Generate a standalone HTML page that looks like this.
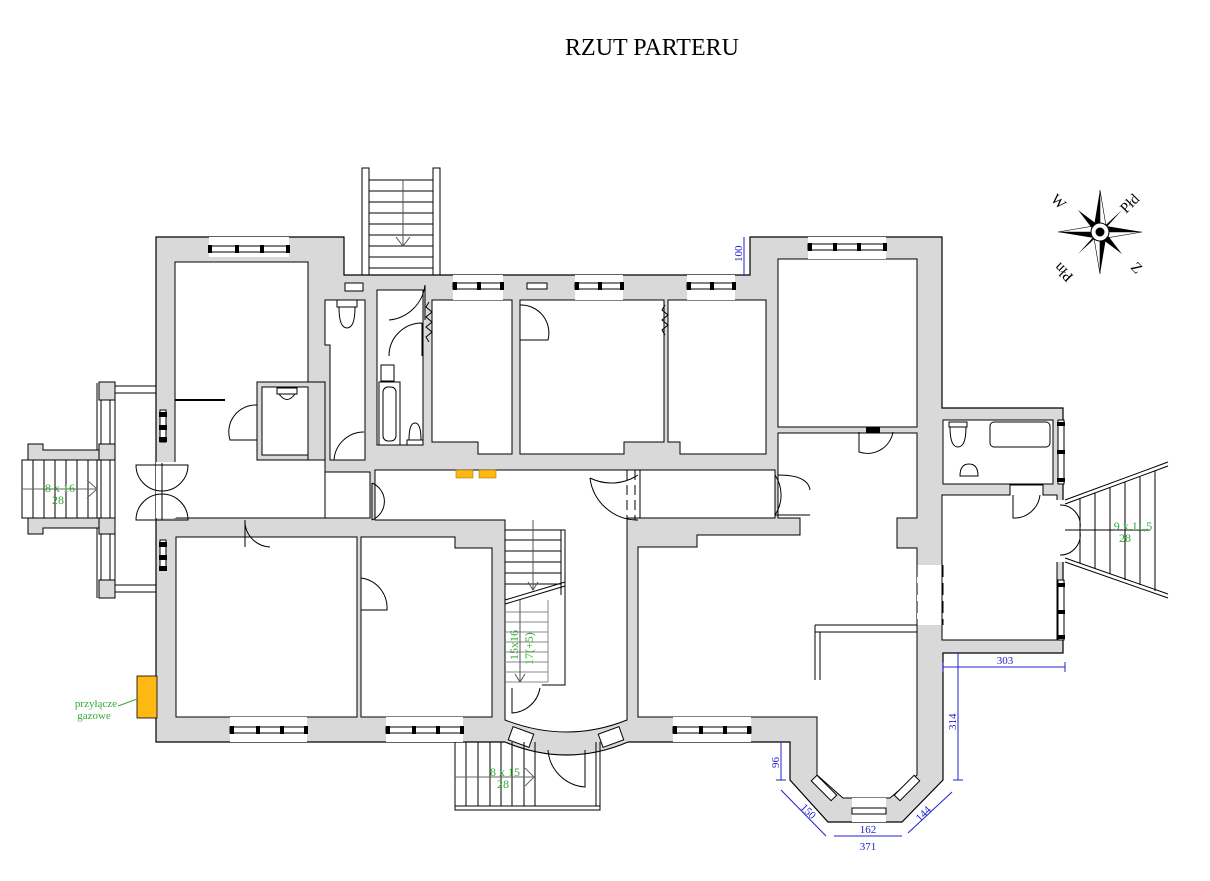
<!DOCTYPE html>
<html><head><meta charset="utf-8"><style>
html,body{margin:0;padding:0;background:#fff}
svg{display:block}
text{font-family:"Liberation Serif",serif}
</style></head><body>
<svg width="1210" height="881" viewBox="0 0 1210 881" xmlns="http://www.w3.org/2000/svg">
<rect width="1210" height="881" fill="#fff"/>
<text x="652" y="55" font-size="24" text-anchor="middle" fill="#000">RZUT PARTERU</text>

<!-- north stair -->
<g stroke="#000" stroke-width="1" fill="none">
<rect x="362" y="168" width="7" height="107" fill="#fff"/>
<rect x="433" y="168" width="7" height="107" fill="#fff"/>
<path d="M369 180H433M369 191H433M369 202H433M369 213H433M369 224H433M369 235H433M369 246H433M369 257H433M369 268H433"/>
<path d="M403 180V246M396 237L403 246L410 237" stroke="#555"/>
</g>

<!-- footprint -->
<path d="M156,237 L344,237 L344,275 L750,275 L750,237 L942,237 L942,408 L1063,408 L1063,653 L943,653 L943,780 L902,822 L828,822 L790,780 L790,742 L628,742 Q567,768 505,742 L156,742 Z" fill="#d9d9d9" stroke="#000" stroke-width="1.2"/>

<g fill="#fff" stroke="#000" stroke-width="1">
<path d="M175,262 L308,262 L308,382 L257,382 L257,460 L325,460 L325,518 L175,518 Z"/>
<rect x="257" y="382" width="68" height="78" fill="#d9d9d9"/>
<rect x="262" y="387" width="46" height="68"/>
<rect x="156" y="462" width="20" height="56" stroke="none"/>
<path d="M325,300 L365,300 L365,460 L330,460 L330,345 L325,345 Z"/>
<rect x="377" y="290" width="46" height="155"/>
<path d="M432,300 L512,300 L512,454 L478,454 L478,442 L432,442 Z"/>
<path d="M520,300 L664,300 L664,442 L624,442 L624,454 L520,454 Z"/>
<path d="M668,300 L766,300 L766,454 L680,454 L680,442 L668,442 Z"/>
<rect x="778" y="259" width="139" height="168"/>
<rect x="325" y="472" width="45" height="46"/>
<path d="M375,470 L640,470 L640,518 L627,518 L627,720 Q567,744 505,720 L505,520 L375,520 Z"/>
<rect x="640" y="470" width="135" height="48"/>
<path d="M778,433 L917,433 L917,518 L897,518 L897,548 L917,548 L917,775 L890,798 L843,798 L817,775 L817,717 L638,717 L638,547 L697,547 L697,535 L800,535 L800,518 L778,518 Z"/>
<rect x="917" y="565" width="26" height="60" stroke="none"/>
<rect x="943" y="420" width="110" height="64"/>
<path d="M942,495 L1010,495 L1010,485 L1043,485 L1043,495 L1057,495 L1057,640 L942,640 Z"/>
<rect x="1055" y="500" width="10" height="62" stroke="none"/>
<rect x="176" y="537" width="181" height="180"/>
<path d="M361,537 L455,537 L455,548 L492,548 L492,717 L361,717 Z"/>
</g>

<g stroke="#000" stroke-width="1" fill="none">
<path d="M175,400H225" stroke-width="2"/>
<path d="M917,565V625M943,565V625" stroke-dasharray="12,6"/>
<path d="M815,625H917M815,632H917M815,625V680M820,632V680"/>
<path d="M635,470V520M627,470V520" stroke-dasharray="10,5"/>
<path d="M308,405V460" stroke-dasharray="10,5"/>
<rect x="337" y="300" width="20" height="7"/><path d="M339,307 Q339,328 347,328 Q355,328 355,307"/>
<rect x="381" y="365" width="13" height="16"/>
<rect x="379" y="382" width="21" height="63"/><rect x="383" y="387" width="13" height="54" rx="5"/>
<rect x="407" y="440" width="16" height="5"/><path d="M409,440 Q409,423 415,423 Q421,423 421,440"/>
<rect x="277" y="388" width="20" height="6"/><path d="M279,394 Q287,405 295,394"/>
<rect x="990" y="422" width="60" height="25" rx="4"/>
<rect x="949" y="422" width="18" height="5"/><path d="M950,427 Q950,447 958,447 Q966,447 966,427"/>
<path d="M960,476 Q960,464 969,464 Q978,464 978,476Z"/>
<path d="M425,285 A40,40 0 0 1 389,320 M425,285V320"/>
<path d="M422,323 A33,33 0 0 0 389,356 M422,323V356"/>
<path d="M257,405 A27,27 0 0 0 230,440 H257"/>
<path d="M364,432 A30,30 0 0 0 334,460"/>
<path d="M520,305 A28,28 0 0 1 548,340 H520"/>
<path d="M372,483 A20,20 0 0 1 372,520 M372,483V520"/>
<path d="M638,475 A48,48 0 0 1 590,478 M638,520 A48,48 0 0 1 590,478"/>
<path d="M775,475 A36,36 0 0 1 775,515 L810,515" />
<path d="M778,475 Q808,475 810,490"/>
<path d="M893,432 A26,26 0 0 1 859,452 V432"/>
<path d="M1040,495 A26,26 0 0 1 1013,518 V495"/>
<path d="M245,520 A26,26 0 0 0 270,547 M245,520V547"/>
<path d="M361,578 A30,30 0 0 1 387,610 H361"/>
<path d="M540,688 A30,30 0 0 1 512,713 V688"/>
<path d="M548,750 A40,40 0 0 0 585,787 V750"/>
<path d="M1060,505 A20,20 0 0 1 1080,528 M1060,555 A20,20 0 0 0 1080,532"/>
<path d="M136,465 A26,26 0 0 0 188,465Z M136,520 A26,26 0 0 1 188,520Z"/>
<path d="M162,463V520"/>
<path d="M429,302 l-3,5 6,5 -6,5 6,5 -6,5 6,5 -6,5 3,5"/>
<path d="M665,305 l-3,5 6,5 -6,5 6,5 -6,5 3,5"/>
</g>
<rect x="866" y="427" width="14" height="6" fill="#000"/>

<g stroke="#000" stroke-width="1" fill="#fff">
<rect x="209" y="237" width="80" height="20" stroke="none"/><rect x="209" y="246" width="80" height="6"/>
<rect x="345" y="283" width="18" height="8"/>
<rect x="453" y="275" width="50" height="25" stroke="none"/><rect x="453" y="283" width="50" height="6"/>
<rect x="527" y="283" width="20" height="6"/>
<rect x="575" y="275" width="48" height="25" stroke="none"/><rect x="575" y="283" width="48" height="6"/>
<rect x="687" y="275" width="48" height="25" stroke="none"/><rect x="687" y="283" width="48" height="6"/>
<rect x="808" y="237" width="78" height="22" stroke="none"/><rect x="808" y="244" width="78" height="6"/>
<rect x="160" y="410" width="6" height="32"/>
<rect x="160" y="540" width="6" height="30"/>
<rect x="230" y="717" width="77" height="25" stroke="none"/><rect x="230" y="727" width="77" height="6"/>
<rect x="386" y="717" width="77" height="25" stroke="none"/><rect x="386" y="727" width="77" height="6"/>
<rect x="673" y="717" width="78" height="25" stroke="none"/><rect x="673" y="727" width="78" height="6"/>
<rect x="852" y="798" width="34" height="24" stroke="none"/><rect x="852" y="808" width="34" height="6"/>
<rect x="1058" y="420" width="6" height="64"/>
<rect x="1058" y="580" width="6" height="60"/>
<rect x="510" y="730" width="22" height="14" transform="rotate(20 521 737)"/>
<rect x="600" y="730" width="22" height="14" transform="rotate(-20 611 737)"/>
<rect x="810" y="784" width="28" height="8" transform="rotate(45 824 788)"/>
<rect x="893" y="784" width="28" height="8" transform="rotate(-45 907 788)"/>
</g>
<g fill="#000">
<rect x="208" y="245" width="4" height="8"/><rect x="235" y="245" width="4" height="8"/><rect x="260" y="245" width="4" height="8"/><rect x="286" y="245" width="4" height="8"/>
<rect x="808" y="243" width="4" height="8"/><rect x="833" y="243" width="4" height="8"/><rect x="857" y="243" width="4" height="8"/><rect x="883" y="243" width="4" height="8"/>
<rect x="453" y="282" width="4" height="8"/><rect x="477" y="282" width="4" height="8"/><rect x="500" y="282" width="4" height="8"/>
<rect x="575" y="282" width="4" height="8"/><rect x="598" y="282" width="4" height="8"/><rect x="620" y="282" width="4" height="8"/>
<rect x="687" y="282" width="4" height="8"/><rect x="710" y="282" width="4" height="8"/><rect x="732" y="282" width="4" height="8"/>
<rect x="230" y="726" width="4" height="8"/><rect x="256" y="726" width="4" height="8"/><rect x="280" y="726" width="4" height="8"/><rect x="304" y="726" width="4" height="8"/>
<rect x="386" y="726" width="4" height="8"/><rect x="412" y="726" width="4" height="8"/><rect x="436" y="726" width="4" height="8"/><rect x="460" y="726" width="4" height="8"/>
<rect x="673" y="726" width="4" height="8"/><rect x="699" y="726" width="4" height="8"/><rect x="723" y="726" width="4" height="8"/><rect x="747" y="726" width="4" height="8"/>
<rect x="159" y="412" width="8" height="5"/><rect x="159" y="425" width="8" height="5"/><rect x="159" y="437" width="8" height="5"/>
<rect x="159" y="542" width="8" height="5"/><rect x="159" y="555" width="8" height="5"/><rect x="159" y="566" width="8" height="5"/>
<rect x="1057" y="422" width="8" height="4"/><rect x="1057" y="450" width="8" height="4"/><rect x="1057" y="478" width="8" height="4"/>
<rect x="1057" y="583" width="8" height="4"/><rect x="1057" y="610" width="8" height="4"/><rect x="1057" y="635" width="8" height="4"/>
</g>

<g stroke="#000" stroke-width="1" fill="none">
<path d="M97,383V598M101,383V598M110,400V580M115,400V580"/>
<path d="M115,386H156M115,393H156M115,585H156M115,592H156"/>
<rect x="99" y="382" width="16" height="18" fill="#d9d9d9"/>
<rect x="99" y="444" width="16" height="16" fill="#d9d9d9"/>
<rect x="99" y="518" width="16" height="16" fill="#d9d9d9"/>
<rect x="99" y="580" width="16" height="18" fill="#d9d9d9"/>
<path d="M28,460V444H43V450H99V460Z" fill="#d9d9d9"/>
<path d="M28,518V534H43V528H99V518Z" fill="#d9d9d9"/>
<rect x="22" y="460" width="75" height="58" fill="#fff"/>
<path d="M33,460V518M44,460V518M55,460V518M66,460V518M77,460V518M88,460V518"/>
<path d="M22,489H97M87,480L97,489L87,498" stroke="#666"/>
</g>
<text x="60" y="492" font-size="12" fill="#3a3" text-anchor="middle">8 x 16</text>
<text x="58" y="504" font-size="12" fill="#3a3" text-anchor="middle">28</text>

<g stroke="#000" stroke-width="1" fill="none">
<path d="M505,530H565V685H542M565,530V685M561,530V595"/>
<path d="M505,540H561M505,551H561M505,562H561M505,573H561M505,584H561"/>
<path d="M505,600L565,582M505,604L565,586"/>
<path d="M505,612H548M505,622H548M505,632H548M505,642H548M505,652H548M505,662H548M505,672H548M505,682H548M548,600V682" stroke="#888"/>
<path d="M533,520V590M528,582L533,590L538,582M520,600V682M515,674L520,682L525,674" stroke="#555"/>
</g>
<text transform="translate(518,660) rotate(-90)" font-size="12" fill="#3a3">15x16</text>
<text transform="translate(533,665) rotate(-90)" font-size="12" fill="#3a3">17(+5)</text>

<g stroke="#000" stroke-width="1" fill="none">
<path d="M455,742V810H600V742M455,806H600M596,742V806"/>
<path d="M466,742V806M478,742V806M490,742V806M501,742V806M512,742V806M524,742V806M535,742V806"/>
<path d="M455,777H534M525,768L534,777L525,786" stroke="#666"/>
</g>
<text x="505" y="776" font-size="12" fill="#3a3" text-anchor="middle">8 x 15</text>
<text x="503" y="788" font-size="12" fill="#3a3" text-anchor="middle">28</text>

<g stroke="#000" stroke-width="1" fill="none">
<path d="M1065,500L1168,462M1065,504L1168,466M1065,562L1168,598M1065,558L1168,594"/>
<path d="M1080,499V563M1095,493V569M1110,488V574M1125,482V580M1140,477V585M1155,471V591"/>
<path d="M1065,530H1150"/>
</g>
<text x="1133" y="530" font-size="12" fill="#3a3" text-anchor="middle">9 x 11,5</text>
<text x="1125" y="542" font-size="12" fill="#3a3" text-anchor="middle">28</text>

<rect x="137" y="676" width="20" height="42" fill="#fdb813" stroke="#000" stroke-width="0.8"/>
<rect x="456" y="470" width="17" height="8" fill="#fdb813" stroke="#a70" stroke-width="0.6"/>
<rect x="479" y="470" width="17" height="8" fill="#fdb813" stroke="#a70" stroke-width="0.6"/>
<path d="M118,706L137,699" stroke="#3a3"/>
<text x="96" y="707" font-size="11" fill="#3a3" text-anchor="middle">przyłącze</text>
<text x="94" y="719" font-size="11" fill="#3a3" text-anchor="middle">gazowe</text>

<g stroke="#22c" stroke-width="1" fill="none">
<path d="M744,237V275"/>
<path d="M943,667H1065M943,662V672M1065,662V672"/>
<path d="M958,653V780M953,780H963"/>
<path d="M781,742V780M776,780H786"/>
<path d="M781,790L826,836"/>
<path d="M834,836H902"/>
<path d="M908,833L952,792"/>
</g>
<g fill="#22c" font-size="11">
<text transform="translate(742,262) rotate(-90)">100</text>
<text x="1005" y="664" text-anchor="middle">303</text>
<text transform="translate(956,730) rotate(-90)">314</text>
<text transform="translate(779,768) rotate(-90)">96</text>
<text transform="translate(800,808) rotate(45)">150</text>
<text x="868" y="833" text-anchor="middle">162</text>
<text transform="translate(920,822) rotate(-45)">144</text>
<text x="868" y="850" text-anchor="middle">371</text>
</g>

<g transform="translate(1100,232)">
<polygon points="0,-42 6,-6 42,0 6,6 0,42 -6,6 -42,0 -6,-6" fill="#000"/>
<polygon points="0,-42 6,-6 0,0" fill="#fff" stroke="#000" stroke-width="0.6"/>
<polygon points="42,0 6,6 0,0" fill="#fff" stroke="#000" stroke-width="0.6"/>
<polygon points="0,42 -6,6 0,0" fill="#fff" stroke="#000" stroke-width="0.6"/>
<polygon points="-42,0 -6,-6 0,0" fill="#fff" stroke="#000" stroke-width="0.6"/>
<polygon points="22,-22 4,-2 -22,22 -4,2" fill="#000"/>
<polygon points="-22,-22 -2,4 22,22 2,-4" fill="#000"/>
<circle r="9" fill="#fff" stroke="#000"/>
<circle r="4.5" fill="#000"/>
<text transform="translate(26,-18) rotate(-45)" font-size="15" font-family="Liberation Sans, sans-serif">Płd</text>
<text transform="translate(-50,-32) rotate(45)" font-size="15" font-family="Liberation Sans, sans-serif">W</text>
<text transform="translate(-26,44) rotate(-135)" font-size="15" font-family="Liberation Sans, sans-serif">Płn</text>
<text transform="translate(30,36) rotate(45)" font-size="15" font-family="Liberation Sans, sans-serif">Z</text>
</g>
</svg>
</body></html>
